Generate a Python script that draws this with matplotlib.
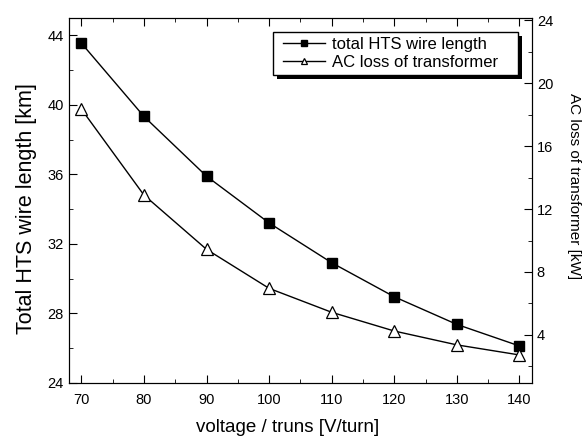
import matplotlib.pyplot as plt
from matplotlib.patches import Rectangle
from matplotlib.ticker import MultipleLocator

plt.rcParams['font.family'] = ['Liberation Sans', 'DejaVu Sans']

# values
volts = [70, 80, 90, 100, 110, 120, 130, 140]
wire_km = [43.56, 39.34, 35.90, 33.21, 30.92, 28.96, 27.37, 26.13]
ac_loss_kw = [18.35, 12.89, 9.44, 6.96, 5.44, 4.25, 3.37, 2.73]

fig = plt.figure(figsize=(5.83, 4.36), dpi=100)
ax = fig.add_axes([0.118, 0.1216, 0.7945, 0.837])
ax2 = ax.twinx()

l1, = ax.plot(volts, wire_km, color='k', lw=1, marker='s', ms=7,
              mfc='k', mec='k', label='total HTS wire length')
l2, = ax2.plot(volts, ac_loss_kw, color='k', lw=1, marker='^', ms=8,
               mfc='white', mec='k', mew=0.9, label='AC loss of transformer')

ax.set_xlim(68, 142)
ax.set_ylim(24, 45)
ax2.set_ylim(0.95, 24.13)

ax.xaxis.set_major_locator(MultipleLocator(10))
ax.xaxis.set_minor_locator(MultipleLocator(5))
ax.yaxis.set_major_locator(MultipleLocator(4))
ax.yaxis.set_minor_locator(MultipleLocator(2))
ax2.yaxis.set_major_locator(MultipleLocator(4))
ax2.yaxis.set_minor_locator(MultipleLocator(2))

ax.tick_params(which='both', direction='in', top=True, labelsize=10.5)
ax.tick_params(which='major', length=6)
ax.tick_params(which='minor', length=3)
ax.tick_params(axis='x', pad=7)
ax2.tick_params(which='both', direction='in', labelsize=10.5)
ax2.tick_params(which='major', length=6)
ax2.tick_params(which='minor', length=3)

ax.set_xlabel('voltage / truns [V/turn]', fontsize=13.5)
ax.xaxis.set_label_coords(0.473, -0.1)
ax.set_ylabel('Total HTS wire length [km]', fontsize=15.5)
ax.yaxis.set_label_coords(-0.069, 0.479)
ax2.set_ylabel('AC loss of transformer [kW]', fontsize=11, rotation=270)
ax2.yaxis.set_label_coords(1.106, 0.54)

# legend text without frame; the framed box with a solid shadow is drawn below
leg = ax2.legend(handles=[l1, l2], loc='upper left', fontsize=12,
                 frameon=False, markerscale=0.6,
                 handlelength=2.5, handletextpad=0.42, borderpad=0,
                 labelspacing=0.15, borderaxespad=0,
                 bbox_to_anchor=(0.4622, 0.948))

fig.canvas.draw()
rend = fig.canvas.get_renderer()
bb = leg.get_window_extent(rend)
text_x1 = max(t.get_window_extent(rend).x1 for t in leg.get_texts())
inv = fig.transFigure.inverted()
(fx0, fy0) = inv.transform((bb.x0 - 10, bb.y0 - 5))
(fx1, fy1) = inv.transform((text_x1 + 20, bb.y1 + 5))
(dx, dy) = inv.transform((4, 4)) - inv.transform((0, 0))
fig.add_artist(Rectangle((fx0 + dx, fy0 - dy), fx1 - fx0, fy1 - fy0,
                         transform=fig.transFigure, facecolor='k',
                         edgecolor='k', lw=0, zorder=9))
fig.add_artist(Rectangle((fx0, fy0), fx1 - fx0, fy1 - fy0,
                         transform=fig.transFigure, facecolor='white',
                         edgecolor='k', lw=1, zorder=10))
leg.set_zorder(11)
leg.remove()
fig.add_artist(leg)

fig.savefig('out.png', dpi=100)
